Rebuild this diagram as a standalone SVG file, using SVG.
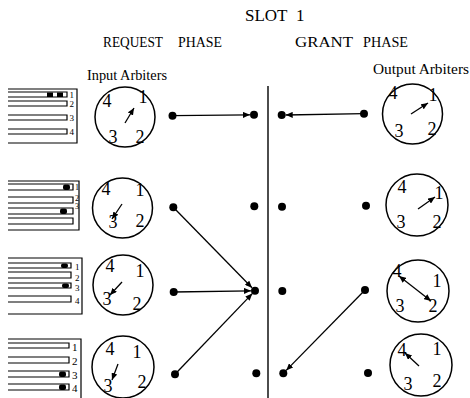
<svg xmlns="http://www.w3.org/2000/svg" width="470" height="398" viewBox="0 0 470 398">
<style>
text{font-family:"Liberation Serif","Times New Roman",serif;fill:#000}
.hdr{font-size:14.5px}
.num{font-size:18px;text-anchor:middle}
.q{font-size:9px}
.clk{fill:none;stroke:#000;stroke-width:1.5}
.hand{stroke:#000;stroke-width:1.3;fill:none}
.frame{fill:none;stroke:#000;stroke-width:1.2}
.queue{fill:none;stroke:#000;stroke-width:1.2}
.pkt{fill:#000}
.dot{fill:#000}
.conn{stroke:#000;stroke-width:1.3;fill:none}
</style>
<defs>
<marker id="ah" markerWidth="7" markerHeight="6" refX="7" refY="3" orient="auto" markerUnits="userSpaceOnUse">
<path d="M0,0 L7,3 L0,6 Z" fill="#000"/>
</marker>
<marker id="ahs" markerWidth="7" markerHeight="6" refX="0" refY="3" orient="auto" markerUnits="userSpaceOnUse">
<path d="M7,0 L0,3 L7,6 Z" fill="#000"/>
</marker>
</defs>

<g id="titles">
<text x="245" y="21" style="font-size:17px">SLOT</text>
<text x="296" y="21" style="font-size:17px">1</text>
<text class="hdr" x="103" y="47" textLength="60" lengthAdjust="spacingAndGlyphs">REQUEST</text>
<text class="hdr" x="178" y="47" textLength="44" lengthAdjust="spacingAndGlyphs">PHASE</text>
<text class="hdr" x="295" y="47" textLength="58" lengthAdjust="spacingAndGlyphs">GRANT</text>
<text class="hdr" x="363" y="47" textLength="45" lengthAdjust="spacingAndGlyphs">PHASE</text>
<text class="hdr" x="87" y="80" textLength="80" lengthAdjust="spacingAndGlyphs">Input Arbiters</text>
<text class="hdr" x="373" y="74" textLength="96" lengthAdjust="spacingAndGlyphs">Output Arbiters</text>
</g>

<g id="divider">
<line x1="268" y1="86" x2="268" y2="398" stroke="#000" stroke-width="1.4"/>
</g>

<g id="queues1">
<path class="frame" d="M8,89 H77 V143 H8"/>
<path class="queue" d="M8,92 H67 V97 H8 M8,101 H67 V106 H8 M8,115 H67 V120 H8 M8,129 H67 V134 H8"/>
<rect class="pkt" x="47" y="92.5" width="6" height="4.5"/>
<rect class="pkt" x="57" y="92.5" width="6" height="4.5"/>
<text class="q" x="69.5" y="98">1</text>
<text class="q" x="69.5" y="107">2</text>
<text class="q" x="69.5" y="121">3</text>
<text class="q" x="69.5" y="135">4</text>
</g>
<g id="queues2">
<path class="frame" d="M8,181 H79 V230 H8"/>
<path class="queue" d="M8,184 H73 V190 H8 M8,197 H73 V203 H8 M8,208 H73 V214 H8 M8,218 H73 V224 H8"/>
<rect class="pkt" x="63" y="184.5" width="7" height="5.5" rx="2"/>
<rect class="pkt" x="60" y="208.5" width="7" height="5.5" rx="2"/>
<text class="q" x="75" y="190" style="font-size:8px">1</text>
<text class="q" x="75" y="201" style="font-size:8px">2</text>
<text class="q" x="75" y="209" style="font-size:8px">3</text>
</g>
<g id="queues3">
<path class="frame" d="M8,258 H82 V314 H8"/>
<path class="queue" d="M8,263 H71 V268 H8 M8,272 H71 V278 H8 M8,283 H71 V288 H8 M8,296 H71 V302 H8"/>
<rect class="pkt" x="61" y="263.5" width="7" height="4.5" rx="2"/>
<rect class="pkt" x="62" y="283.5" width="7" height="4.5" rx="2"/>
<text class="q" x="75" y="270">1</text>
<text class="q" x="75" y="281">2</text>
<text class="q" x="75" y="291">3</text>
<text class="q" x="75" y="304">4</text>
</g>
<g id="queues4">
<path class="frame" d="M8,339 H81 V398"/>
<path class="queue" d="M8,343 H69 V348 H8 M8,357 H69 V363 H8 M8,371 H69 V377 H8 M8,384 H69 V390 H8"/>
<rect class="pkt" x="59" y="371.5" width="7" height="5.5" rx="2"/>
<rect class="pkt" x="59" y="384.5" width="7" height="5.5" rx="2"/>
<text class="q" x="72" y="351" style="font-size:11px">1</text>
<text class="q" x="72" y="365" style="font-size:11px">2</text>
<text class="q" x="72" y="379" style="font-size:11px">3</text>
<text class="q" x="72" y="392" style="font-size:11px">4</text>
</g>

<g id="in1">
<circle class="clk" cx="125" cy="117" r="30"/>
<text class="num" x="107" y="107">4</text>
<text class="num" x="143" y="102.5">1</text>
<text class="num" x="113" y="143">3</text>
<text class="num" x="140" y="143">2</text>
<line class="hand" x1="125" y1="123" x2="134" y2="108" marker-end="url(#ah)"/>
</g>
<g id="in2">
<circle class="clk" cx="122.5" cy="208" r="30"/>
<text class="num" x="106" y="195">4</text>
<text class="num" x="140" y="196">1</text>
<text class="num" x="113" y="228">3</text>
<text class="num" x="140" y="227">2</text>
<line class="hand" x1="122" y1="204" x2="112" y2="219" marker-end="url(#ah)"/>
</g>
<g id="in3">
<circle class="clk" cx="123" cy="285" r="30"/>
<text class="num" x="110" y="272">4</text>
<text class="num" x="140" y="277">1</text>
<text class="num" x="107" y="305">3</text>
<text class="num" x="137" y="310">2</text>
<line class="hand" x1="122" y1="282" x2="110" y2="295" marker-end="url(#ah)"/>
</g>
<g id="in4">
<circle class="clk" cx="123" cy="367" r="31"/>
<text class="num" x="110" y="355">4</text>
<text class="num" x="137" y="358">1</text>
<text class="num" x="108" y="392">3</text>
<text class="num" x="142" y="388">2</text>
<line class="hand" x1="118" y1="364" x2="112" y2="380" marker-end="url(#ah)"/>
</g>

<g id="out1">
<circle class="clk" cx="412.5" cy="114" r="30"/>
<text class="num" x="393" y="99">4</text>
<text class="num" x="433" y="101">1</text>
<text class="num" x="399" y="137">3</text>
<text class="num" x="432" y="135">2</text>
<line class="hand" x1="411" y1="114" x2="428" y2="103" marker-end="url(#ah)"/>
</g>
<g id="out2">
<circle class="clk" cx="417" cy="205" r="31"/>
<text class="num" x="402" y="193">4</text>
<text class="num" x="439" y="199">1</text>
<text class="num" x="401" y="228">3</text>
<text class="num" x="437" y="228">2</text>
<line class="hand" x1="418" y1="209" x2="435" y2="197" marker-end="url(#ah)"/>
</g>
<g id="out3">
<circle class="clk" cx="418" cy="291" r="31"/>
<text class="num" x="397" y="277">4</text>
<text class="num" x="437" y="287">1</text>
<text class="num" x="400" y="312">3</text>
<text class="num" x="433" y="312">2</text>
<line class="hand" x1="399" y1="276" x2="431" y2="301" marker-start="url(#ahs)" marker-end="url(#ah)"/>
</g>
<g id="out4">
<circle class="clk" cx="421" cy="365" r="31"/>
<text class="num" x="402" y="356">4</text>
<text class="num" x="437" y="355">1</text>
<text class="num" x="408" y="390">3</text>
<text class="num" x="437" y="387">2</text>
<line class="hand" x1="419" y1="366" x2="405" y2="353" marker-end="url(#ah)"/>
</g>

<g id="dots">
<circle class="dot" cx="172.5" cy="115.7" r="4"/>
<circle class="dot" cx="254" cy="114.7" r="4"/>
<circle class="dot" cx="281.7" cy="115" r="4"/>
<circle class="dot" cx="364" cy="113.7" r="4"/>
<circle class="dot" cx="173.3" cy="207.3" r="4"/>
<circle class="dot" cx="254.3" cy="206.3" r="4"/>
<circle class="dot" cx="282" cy="206.7" r="4"/>
<circle class="dot" cx="366" cy="205.7" r="4"/>
<circle class="dot" cx="173.7" cy="292" r="4"/>
<circle class="dot" cx="255" cy="290.7" r="4"/>
<circle class="dot" cx="282.3" cy="291" r="4"/>
<circle class="dot" cx="365" cy="290" r="4"/>
<circle class="dot" cx="175" cy="374.3" r="4"/>
<circle class="dot" cx="256.3" cy="373.3" r="4"/>
<circle class="dot" cx="283.3" cy="373.3" r="4"/>
<circle class="dot" cx="368" cy="373" r="4"/>
</g>

<g id="connectors">
<line class="conn" x1="172.5" y1="115.7" x2="250" y2="114.8" marker-end="url(#ah)"/>
<line class="conn" x1="364" y1="113.7" x2="285.7" y2="115" marker-end="url(#ah)"/>
<line class="conn" x1="173.3" y1="207.3" x2="252" y2="287.8" marker-end="url(#ah)"/>
<line class="conn" x1="173.7" y1="292" x2="251" y2="290.8" marker-end="url(#ah)"/>
<line class="conn" x1="175" y1="374.3" x2="252.3" y2="293.6" marker-end="url(#ah)"/>
<line class="conn" x1="365" y1="290" x2="286.2" y2="370.4" marker-end="url(#ah)"/>
</g>
</svg>
